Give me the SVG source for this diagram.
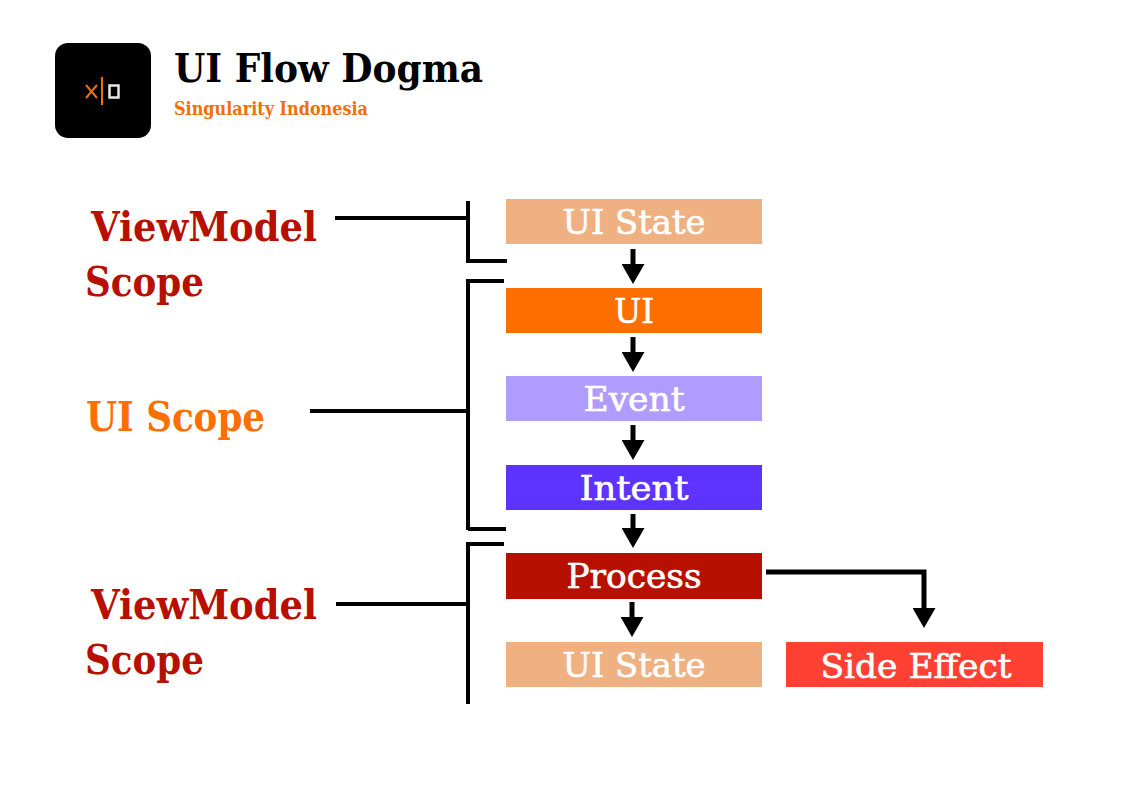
<svg xmlns="http://www.w3.org/2000/svg" width="1123" height="794" viewBox="0 0 1123 794">
<style>
text{font-family:"DejaVu Serif Condensed","DejaVu Serif","Liberation Serif",serif;font-stretch:condensed}
.n{font-size:34px;fill:#fff;stroke:#fff;stroke-width:.6;text-anchor:middle;font-weight:400}
.s{font-size:41px;font-weight:700}
.l{fill:none;stroke:#000;stroke-width:4}
.a{fill:none;stroke:#000;stroke-width:5}
</style>
<defs>
<marker id="ah" markerUnits="userSpaceOnUse" markerWidth="20" markerHeight="23" refX="0" refY="11.500" orient="auto"><path d="M0 0L20 11.500L0 23Z" fill="#000"/></marker>
</defs>
<rect width="1123" height="794" fill="#fff"/>
<g id="logo">
<rect x="55" y="43" width="96" height="95" rx="13" fill="#000"/>
<path d="M86 85L97 98M97 85L86 98" stroke="#e8700f" stroke-width="2" fill="none"/>
<path d="M102 77V105" stroke="#e8700f" stroke-width="2"/>
<rect x="109.500" y="85.500" width="9" height="12" fill="none" stroke="#e6e6e6" stroke-width="2.500"/>
</g>
<g id="title">
<text x="174" y="82" font-weight="700" font-size="40" textLength="309" lengthAdjust="spacingAndGlyphs" fill="#000">UI Flow Dogma</text>
<text x="174" y="115" font-weight="700" font-size="18" textLength="194" lengthAdjust="spacingAndGlyphs" fill="#f36f06">Singularity Indonesia</text>
</g>
<g id="scope-vm-top">
<text class="s" x="91" y="241" fill="#b81000" textLength="226" lengthAdjust="spacingAndGlyphs">ViewModel</text>
<text class="s" x="85" y="296" fill="#b81000" textLength="119" lengthAdjust="spacingAndGlyphs">Scope</text>
</g>
<g id="scope-ui">
<text class="s" x="86" y="431" fill="#ff6f00" textLength="179" lengthAdjust="spacingAndGlyphs">UI Scope</text>
</g>
<g id="scope-vm-bottom">
<text class="s" x="91" y="619" fill="#b81000" textLength="226" lengthAdjust="spacingAndGlyphs">ViewModel</text>
<text class="s" x="85" y="674" fill="#b81000" textLength="119" lengthAdjust="spacingAndGlyphs">Scope</text>
</g>
<g id="node-ui-state-1"><rect x="506" y="199" width="256" height="45" fill="#f0b182"/><text class="n" x="634" y="234" textLength="143" lengthAdjust="spacingAndGlyphs">UI State</text></g>
<g id="node-ui"><rect x="506" y="288" width="256" height="45" fill="#ff6f00"/><text class="n" x="634" y="323" textLength="40" lengthAdjust="spacingAndGlyphs">UI</text></g>
<g id="node-event"><rect x="506" y="376" width="256" height="45" fill="#b09cff"/><text class="n" x="634" y="411" textLength="101" lengthAdjust="spacingAndGlyphs">Event</text></g>
<g id="node-intent"><rect x="506" y="465" width="256" height="45" fill="#5c33ff"/><text class="n" x="634" y="500" textLength="109" lengthAdjust="spacingAndGlyphs">Intent</text></g>
<g id="node-process"><rect x="506" y="553" width="256" height="46" fill="#b81000"/><text class="n" x="634" y="588" textLength="135" lengthAdjust="spacingAndGlyphs">Process</text></g>
<g id="node-ui-state-2"><rect x="506" y="642" width="256" height="45" fill="#f0b182"/><text class="n" x="634" y="677" textLength="143" lengthAdjust="spacingAndGlyphs">UI State</text></g>
<g id="node-side-effect"><rect x="786" y="642" width="257" height="45" fill="#ff4133"/><text class="n" x="916" y="678" textLength="191" lengthAdjust="spacingAndGlyphs">Side Effect</text></g>
<g id="connectors">
<path class="l" d="M335 218H467M468 201V261H507"/>
<path class="l" d="M310 411H467M468 530V281H504"/>
<path class="l" d="M468 529H506"/>
<path class="l" d="M336 604H467M468 704V544H504"/>
<path class="a" marker-end="url(#ah)" d="M633 249V264"/>
<path class="a" marker-end="url(#ah)" d="M633 337V352"/>
<path class="a" marker-end="url(#ah)" d="M633 425V440"/>
<path class="a" marker-end="url(#ah)" d="M633 514V528"/>
<path class="a" marker-end="url(#ah)" d="M632 602V617"/>
<path class="a" marker-end="url(#ah)" d="M766 572H924V608"/>
</g>
</svg>
